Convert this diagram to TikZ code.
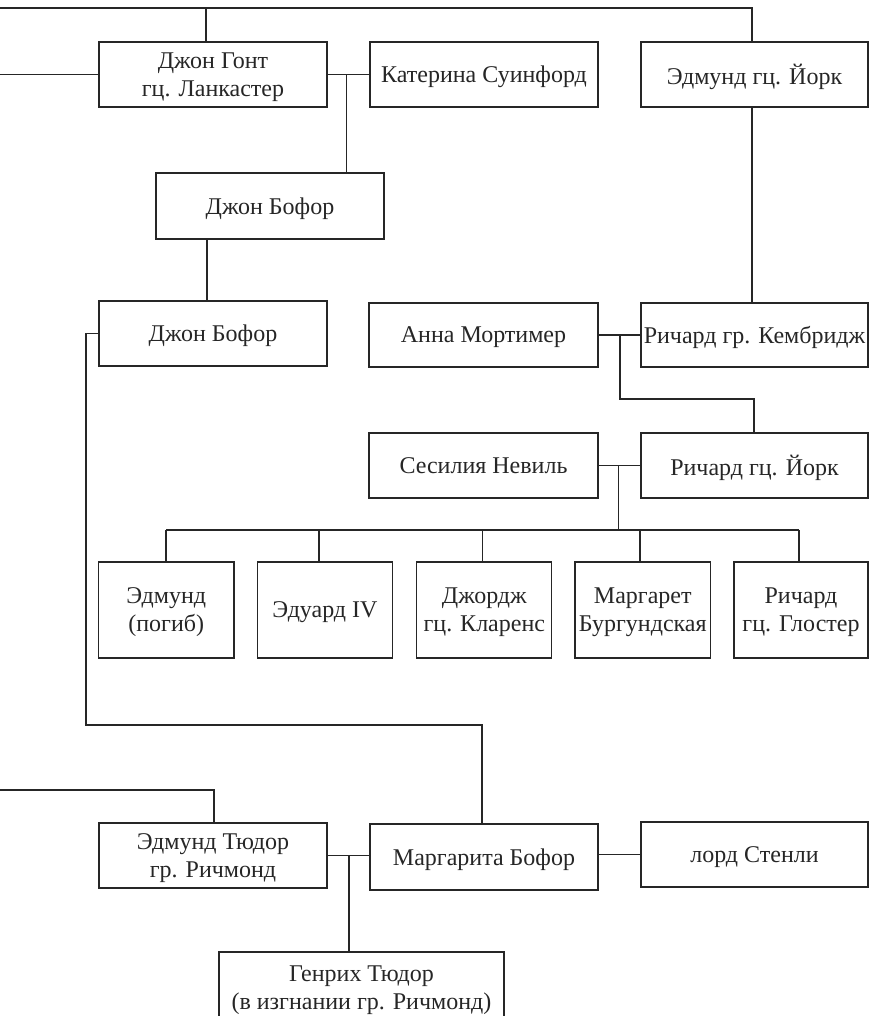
\documentclass[tikz,border=0pt]{standalone}
\usepackage{fontspec}
\setmainfont{Liberation Serif}
\begin{document}
\begin{tikzpicture}[x=1pt,y=-1pt,
  line width=1.25pt, draw=black!85,
  person/.style={draw=black!85, line width=1.25pt, inner sep=0pt, align=center,
    font=\fontsize{24}{28}\selectfont, text=black!85, text depth=0pt},
  wh/.style 2 args={minimum width=#1pt, minimum height=#2pt}]
\useasboundingbox (0,0) rectangle (869,1016);
% nodes
\node[person, wh={228}{65}] (gont) at (213,74.5) {Джон Гонт\\гц. Ланкастер};
\node[person, wh={228}{65}] (kat) at (484,74.5) {Катерина Суинфорд};
\node[person, wh={227}{65}] (edm) at (754.5,74.5) {Эдмунд гц. Йорк};
\node[person, wh={228}{66}] (bof1) at (270,206) {Джон Бофор};
\node[person, wh={228}{65}] (bof2) at (213,333.5) {Джон Бофор};
\node[person, wh={229}{64}] (anna) at (483.5,335) {Анна Мортимер};
\node[person, wh={227}{64}] (rcam) at (754.5,335) {Ричард гр. Кембридж};
\node[person, wh={229}{65}] (ces) at (483.5,465.5) {Сесилия Невиль};
\node[person, wh={227}{65}] (ryork) at (754.5,465.5) {Ричард гц. Йорк};
\node[person, wh={135.5}{96}] (c1) at (166.25,610) {Эдмунд\\(погиб)};
\node[person, wh={134.6}{96}] (c2) at (325,610) {Эдуард IV};
\node[person, wh={135}{96}] (c3) at (484.3,610) {Джордж\\гц. Кларенс};
\node[person, wh={135.6}{96}] (c4) at (642.8,610) {Маргарет\\Бургундская};
\node[person, wh={134}{96}] (c5) at (801,610) {Ричард\\гц. Глостер};
\node[person, wh={228}{65}] (etud) at (213,855.5) {Эдмунд Тюдор\\гр. Ричмонд};
\node[person, wh={228}{66}] (marg) at (484,857) {Маргарита Бофор};
\node[person, wh={227}{65}] (stan) at (754.5,854.5) {лорд Стенли};
\node[person, wh={285}{72}] (hen) at (361.5,988) {Генрих Тюдор\\(в изгнании гр. Ричмонд)};
% coordinates
\coordinate (topL) at (0,8);
\coordinate (topR) at (752,8);
\coordinate (gontTop) at (206,8);
\coordinate (leftA) at (0,74.5);
\coordinate (m1) at (346.5,74.5);
\coordinate (b1x) at (207,0);
\coordinate (m2) at (620,335);
\coordinate (m2b) at (620,399);
\coordinate (m2c) at (754,399);
\coordinate (m3) at (618.7,465.5);
\coordinate (bar) at (618.7,530);
\coordinate (barL) at (166,530);
\coordinate (barR) at (799,530);
\coordinate (v2) at (319,530);
\coordinate (v3) at (482.6,530);
\coordinate (v4) at (640,530);
\coordinate (lb) at (86,333.5);
\coordinate (lb2) at (86,725);
\coordinate (lb3) at (482,725);
\coordinate (leftB) at (0,790);
\coordinate (leftB2) at (214,790);
\coordinate (m4) at (349,855.5);
% connectors
\draw (topL) -- (topR) -- (topR |- edm.north);
\draw (gontTop) -- (gontTop |- gont.north);
\draw (leftA) -- (gont.west);
\draw (gont.east) -- (kat.west);
\draw (m1) -- (m1 |- bof1.north);
\draw (b1x |- bof1.south) -- (b1x |- bof2.north);
\draw (topR |- edm.south) -- (topR |- rcam.north);
\draw (anna.east) -- (rcam.west);
\draw (m2) -- (m2b) -- (m2c) -- (m2c |- ryork.north);
\draw (ces.east) -- (ryork.west);
\draw (m3) -- (bar);
\draw (barL) -- (barR);
\draw (barL) -- (barL |- c1.north);
\draw (v2) -- (v2 |- c2.north);
\draw (v3) -- (v3 |- c3.north);
\draw (v4) -- (v4 |- c4.north);
\draw (barR) -- (barR |- c5.north);
\draw (bof2.west) -- (lb) -- (lb2) -- (lb3) -- (lb3 |- marg.north);
\draw (leftB) -- (leftB2) -- (leftB2 |- etud.north);
\draw (etud.east) -- (etud.east -| marg.west);
\draw (m4) -- (m4 |- hen.north);
\draw (stan.west -| marg.east) -- (stan.west);
\end{tikzpicture}
\end{document}
